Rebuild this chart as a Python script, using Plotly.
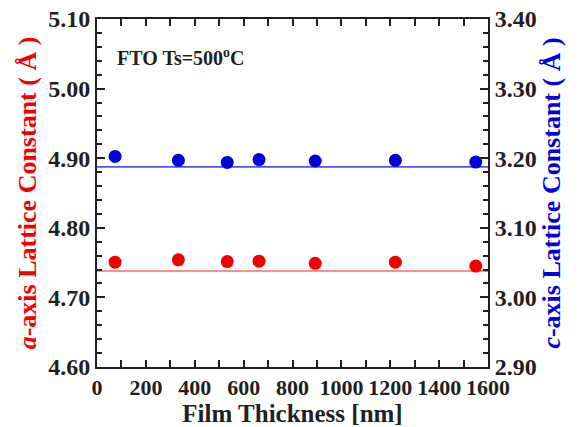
import plotly.graph_objects as go

thickness = [74, 333, 533, 663, 893, 1221, 1550]
a_const = [4.7506, 4.7540, 4.7515, 4.7520, 4.7490, 4.7506, 4.7450]
c_const = [3.2026, 3.1970, 3.1940, 3.1980, 3.1960, 3.1970, 3.1945]
a_fit = 4.738
c_fit = 3.1875
x_range = [0, 1600]
x_ticks = [0, 200, 400, 600, 800, 1000, 1200, 1400, 1600]
a_ticks = [4.60, 4.70, 4.80, 4.90, 5.00, 5.10]
c_ticks = [2.90, 3.00, 3.10, 3.20, 3.30, 3.40]

RED = "#f00000"
BLUE = "#0000dc"
FONT = "Liberation Serif"

fig = go.Figure()
fig.add_trace(go.Scatter(x=x_range, y=[a_fit, a_fit], mode="lines",
                         line=dict(color="#ff6a6a", width=1.6), showlegend=False))
fig.add_trace(go.Scatter(x=x_range, y=[c_fit, c_fit], mode="lines", yaxis="y2",
                         line=dict(color="#5050ff", width=1.6), showlegend=False))
fig.add_trace(go.Scatter(x=thickness, y=a_const, mode="markers",
                         marker=dict(color=RED, size=13), showlegend=False))
fig.add_trace(go.Scatter(x=thickness, y=c_const, mode="markers", yaxis="y2",
                         marker=dict(color=BLUE, size=13), showlegend=False))

fig.add_annotation(text="FTO Ts=500<sup>o</sup>C", xref="paper", yref="paper",
                   x=0.045, y=0.89, xanchor="left", yanchor="middle", showarrow=False,
                   font=dict(family=FONT, size=20, color="#231f20", weight="bold"))

ytickfont = dict(family=FONT, size=24, color="#231f20", weight="bold")
xtickfont = dict(family=FONT, size=22, color="#231f20", weight="bold")
axis_common = dict(showline=True, linecolor="#231f20", linewidth=2, ticks="inside",
                   tickcolor="#231f20", tickwidth=2, showgrid=False, zeroline=False,
                   automargin=False)

fig.update_layout(
    width=579, height=427,
    margin=dict(l=97, r=91, t=19, b=60),
    paper_bgcolor="white", plot_bgcolor="white",
    xaxis=dict(range=x_range, tickvals=x_ticks, ticktext=[str(v) for v in x_ticks],
               ticklen=7, mirror="ticks", tickfont=xtickfont, tickangle=0,
               minor=dict(dtick=100, ticks="inside", ticklen=7, tickcolor="#231f20", tickwidth=2),
               title=dict(text="Film Thickness [nm]", standoff=5,
                          font=dict(family=FONT, size=25, color="#231f20", weight="bold")),
               **axis_common),
    yaxis=dict(range=[4.60, 5.10], tickvals=a_ticks, ticktext=[f"{v:.2f}" for v in a_ticks],
               ticklen=8, tickfont=ytickfont,
               minor=dict(dtick=0.02, ticks="inside", ticklen=5, tickcolor="#231f20", tickwidth=2),
               title=dict(text="<i>a</i>-axis Lattice Constant ( Å )", standoff=4,
                          font=dict(family=FONT, size=26, color=RED, weight="bold")),
               **axis_common),
    yaxis2=dict(range=[2.90, 3.40], tickvals=c_ticks, ticktext=[f"{v:.2f}" for v in c_ticks],
                overlaying="y", side="right", ticklen=8, tickfont=ytickfont,
                minor=dict(dtick=0.02, ticks="inside", ticklen=5, tickcolor="#231f20", tickwidth=2),
                title=dict(text="<i>c</i>-axis Lattice Constant ( Å )", standoff=4,
                           font=dict(family=FONT, size=26, color=BLUE, weight="bold")),
                **axis_common),
)

fig.write_html("out.html")
